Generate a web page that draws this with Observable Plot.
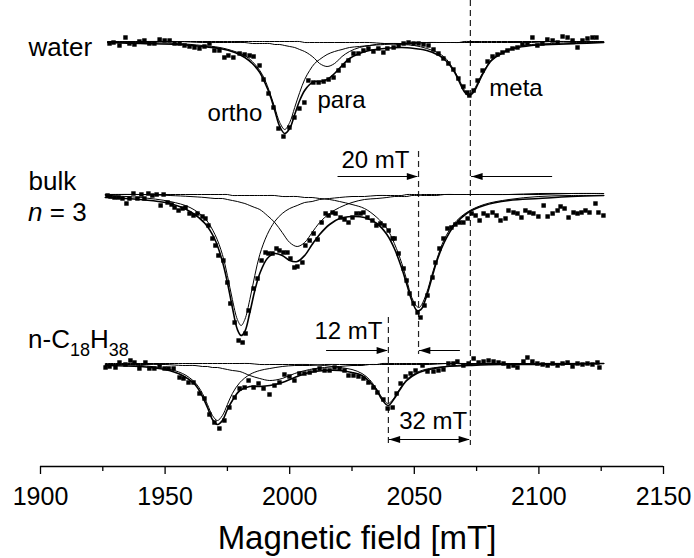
<!DOCTYPE html>
<html>
<head>
<meta charset="utf-8">
<script src="https://cdn.jsdelivr.net/npm/d3@7"></script>
<script src="https://cdn.jsdelivr.net/npm/@observablehq/plot@0.6"></script>
<style>
  body { margin: 0; background: #fff; }
  #chart svg { display: block; }
</style>
</head>
<body>
<div id="chart"></div>
<script>
// ---------------- measured spectra (field in mT, signal in arbitrary units, baseline = 0) ----------------
const waterX = [1927.7,1929.3,1931.7,1934.1,1935.7,1937.7,1939.7,1941.7,1943.7,1945.7,1947.8,1949.8,1951.8,1953.8,1955.8,1957.8,1959.8,1961.8,1963.8,1965.8,1967.8,1969.8,1971.8,1973.8,1975.4,1977.4,1979.9,1981.9,1983.9,1985.5,1987.9,1989.5,1991.5,1993.5,1995.5,1997.5,1999.9,2001.9,2003.9,2005.9,2007.5,2009.5,2011.6,2013.6,2015.6,2017.6,2019.6,2021.6,2023.6,2025.6,2027.6,2029.6,2031.6,2033.6,2035.6,2037.6,2039.2,2041.7,2043.7,2045.7,2047.7,2049.7,2051.7,2053.7,2055.7,2057.7,2059.7,2061.7,2063.7,2065.7,2067.7,2069.7,2071.3,2072.1,2073.8,2075.4,2077.4,2079.4,2081.4,2083.4,2085.4,2087.4,2089.4,2091.4,2093.4,2095.4,2097.4,2099.4,2101.4,2103.4,2105.5,2107.5,2109.5,2111.5,2113.5,2115.5,2117.5,2119.5,2121.5,2123.1];
const waterY = [-0.02,-0.01,-0.04,0.04,-0.02,-0.03,0.00,0.01,-0.02,-0.02,0.02,0.01,0.01,-0.02,-0.02,-0.04,-0.05,-0.06,-0.07,-0.05,-0.02,-0.09,-0.09,-0.16,-0.14,-0.16,-0.12,-0.13,-0.14,-0.15,-0.24,-0.38,-0.52,-0.66,-0.87,-0.95,-0.86,-0.76,-0.67,-0.61,-0.39,-0.41,-0.41,-0.40,-0.38,-0.36,-0.29,-0.24,-0.19,-0.12,-0.12,-0.09,-0.07,-0.10,-0.07,-0.11,-0.07,-0.06,-0.04,-0.02,-0.01,-0.02,-0.02,-0.03,-0.04,-0.08,-0.12,-0.17,-0.22,-0.28,-0.37,-0.45,-0.51,-0.54,-0.49,-0.39,-0.29,-0.20,-0.15,-0.13,-0.11,-0.09,-0.07,-0.06,-0.03,-0.02,0.04,-0.04,-0.02,0.02,0.01,-0.01,0.05,0.04,0.01,-0.06,0.01,0.03,0.04,0.04];

const bulkX = [1926.9,1928.1,1929.7,1931.3,1932.9,1934.5,1935.7,1937.3,1938.9,1940.5,1941.7,1943.3,1944.9,1946.6,1948.2,1949.4,1951.0,1952.6,1953.8,1955.4,1957.0,1958.2,1959.8,1961.4,1963.0,1965.0,1966.2,1967.4,1969.0,1970.2,1971.4,1973.4,1975.0,1976.2,1977.9,1979.5,1981.1,1982.3,1983.5,1985.5,1987.1,1988.7,1990.3,1991.5,1993.1,1994.7,1995.9,1997.5,1999.1,2000.3,2001.9,2003.1,2005.1,2006.3,2008.0,2009.6,2011.2,2012.8,2014.4,2015.6,2017.2,2018.4,2020.4,2022.0,2023.6,2025.2,2026.8,2028.4,2029.6,2031.2,2033.2,2034.8,2036.4,2038.0,2039.7,2041.3,2042.1,2043.7,2045.7,2046.9,2048.1,2049.7,2051.3,2052.5,2054.1,2055.3,2057.3,2058.5,2060.1,2061.7,2063.3,2064.9,2066.5,2068.1,2069.7,2071.4,2073.0,2074.6,2076.2,2077.8,2079.4,2081.4,2083.0,2084.6,2086.6,2087.8,2089.8,2091.4,2093.0,2094.6,2096.2,2097.8,2099.8,2101.9,2103.5,2105.5,2107.5,2108.7,2110.3,2111.9,2113.9,2115.5,2117.1,2118.7,2120.3,2122.7,2123.9,2125.9];
const bulkY = [-0.02,-0.03,-0.04,-0.04,-0.05,-0.10,-0.05,0.00,-0.05,-0.01,-0.05,0.00,-0.02,-0.01,-0.12,-0.01,-0.09,-0.11,-0.14,-0.17,-0.15,-0.14,-0.20,-0.22,-0.20,-0.23,-0.25,-0.32,-0.45,-0.52,-0.62,-0.67,-0.89,-1.10,-1.29,-1.47,-1.49,-1.40,-1.17,-0.95,-0.85,-0.67,-0.59,-0.60,-0.60,-0.55,-0.57,-0.59,-0.59,-0.65,-0.74,-0.73,-0.69,-0.52,-0.47,-0.40,-0.46,-0.29,-0.20,-0.22,-0.19,-0.20,-0.24,-0.26,-0.29,-0.24,-0.20,-0.20,-0.19,-0.24,-0.27,-0.32,-0.30,-0.32,-0.37,-0.45,-0.45,-0.60,-0.75,-0.87,-1.00,-1.10,-1.19,-1.24,-1.12,-1.02,-0.84,-0.69,-0.55,-0.45,-0.35,-0.34,-0.31,-0.29,-0.29,-0.25,-0.20,-0.22,-0.27,-0.20,-0.22,-0.19,-0.22,-0.27,-0.25,-0.17,-0.19,-0.20,-0.24,-0.17,-0.19,-0.20,-0.23,-0.12,-0.23,-0.20,-0.17,-0.13,-0.15,-0.24,-0.19,-0.20,-0.19,-0.17,-0.19,-0.10,-0.19,-0.22];

const c18X = [1926.1,1927.7,1930.1,1931.7,1934.1,1936.1,1937.7,1939.7,1942.1,1943.7,1945.7,1947.8,1949.8,1951.4,1953.4,1955.8,1957.4,1959.4,1961.4,1963.8,1965.8,1967.8,1969.8,1971.8,1973.8,1975.8,1977.9,1979.9,1981.9,1983.5,1985.5,1987.5,1989.5,1991.9,1993.9,1995.9,1997.9,1999.9,2001.9,2003.9,2005.9,2008.0,2010.0,2012.0,2014.0,2016.0,2018.0,2020.0,2022.0,2023.6,2025.6,2027.6,2029.6,2031.6,2033.6,2035.2,2037.6,2039.3,2041.3,2042.9,2044.5,2046.5,2048.5,2050.5,2053.3,2055.3,2057.7,2059.7,2061.7,2063.7,2065.7,2067.3,2069.7,2071.8,2073.8,2075.8,2077.8,2079.8,2081.8,2083.8,2085.8,2087.8,2089.8,2091.4,2093.8,2095.4,2097.4,2099.4,2101.5,2103.5,2105.5,2107.5,2109.5,2111.5,2113.5,2115.5,2117.5,2119.5,2121.5,2123.5,2124.3];
const c18Y = [-0.04,-0.03,-0.04,0.01,-0.01,0.03,0.01,-0.05,0.01,-0.05,-0.05,-0.02,-0.05,-0.05,-0.05,-0.14,-0.15,-0.19,-0.19,-0.30,-0.35,-0.51,-0.59,-0.65,-0.57,-0.44,-0.34,-0.25,-0.24,-0.17,-0.24,-0.20,-0.25,-0.31,-0.22,-0.19,-0.11,-0.13,-0.17,-0.10,-0.10,-0.09,-0.07,-0.05,-0.07,-0.07,-0.04,-0.05,-0.07,-0.12,-0.12,-0.13,-0.15,-0.19,-0.24,-0.29,-0.36,-0.45,-0.44,-0.30,-0.20,-0.13,-0.10,-0.07,-0.02,-0.08,-0.08,-0.07,-0.06,0.00,0.00,0.02,-0.02,0.00,0.05,0.01,0.02,0.03,0.02,0.01,0.00,-0.03,-0.02,-0.04,0.02,0.06,0.02,0.00,-0.01,-0.02,0.00,-0.02,0.00,0.01,-0.03,0.00,-0.01,0.00,-0.01,0.01,-0.04];

// ---------------- fitted curves (depth below baseline) ----------------
const waterGrid  = [1927,1940,1955,1965,1972,1978,1982,1985,1988,1990,1992,1994,1996,1998,2000,2002,2004,2006,2008,2010,2012,2015,2018,2021,2024,2028,2032,2038,2045,2050,2055,2060,2063,2066,2068,2070,2072,2074,2076,2078,2081,2085,2090,2097,2105,2115,2126];
const waterOrtho = [0.01,0.01,0.02,0.04,0.06,0.10,0.14,0.20,0.29,0.38,0.51,0.66,0.81,0.88,0.81,0.66,0.51,0.38,0.29,0.22,0.18,0.13,0.10,0.08,0.06,0.05,0.04,0.03,0.02,0.02,0.01,0.01,0.01,0.01,0.01,0.01,0.01,0.01,0.01,0.01,0.01,0.01,0.01,0.01,0.00,0.00,0.00];
const waterPara  = [0.00,0.00,0.00,0.01,0.01,0.01,0.01,0.02,0.02,0.02,0.02,0.03,0.03,0.04,0.05,0.06,0.08,0.10,0.13,0.17,0.22,0.25,0.22,0.15,0.10,0.06,0.04,0.02,0.02,0.01,0.01,0.01,0.01,0.01,0.01,0.00,0.00,0.00,0.00,0.00,0.00,0.00,0.00,0.00,0.00,0.00,0.00];
const waterMeta  = [0.00,0.00,0.00,0.00,0.00,0.00,0.00,0.00,0.00,0.00,0.00,0.00,0.00,0.00,0.00,0.00,0.00,0.01,0.01,0.01,0.01,0.01,0.01,0.01,0.01,0.01,0.01,0.02,0.03,0.04,0.07,0.12,0.18,0.29,0.38,0.48,0.53,0.48,0.38,0.29,0.18,0.11,0.06,0.03,0.02,0.01,0.01];
const waterFit   = [0.01,0.02,0.03,0.05,0.07,0.11,0.16,0.22,0.31,0.41,0.53,0.69,0.85,0.92,0.87,0.73,0.59,0.49,0.43,0.40,0.40,0.38,0.32,0.24,0.17,0.12,0.09,0.07,0.06,0.07,0.09,0.14,0.20,0.30,0.40,0.50,0.54,0.50,0.40,0.30,0.19,0.12,0.07,0.04,0.03,0.02,0.01];

const bulkGrid  = [1926,1940,1952,1960,1966,1970,1973,1975,1977,1979,1980.5,1982,1984,1986,1988,1991,1994,1997,2000,2003,2006,2009,2012,2016,2020,2025,2030,2035,2039,2042,2045,2047,2049,2051,2052,2053,2055,2057,2059,2062,2066,2071,2078,2088,2100,2113,2126];
const bulkOrtho = [0.02,0.04,0.08,0.14,0.25,0.41,0.61,0.82,1.06,1.26,1.32,1.26,1.06,0.82,0.61,0.41,0.28,0.20,0.15,0.12,0.09,0.08,0.06,0.05,0.04,0.03,0.03,0.02,0.02,0.02,0.02,0.01,0.01,0.01,0.01,0.01,0.01,0.01,0.01,0.01,0.01,0.01,0.01,0.01,0.00,0.00,0.00];
const bulkPara  = [0.01,0.01,0.02,0.03,0.04,0.05,0.05,0.06,0.07,0.08,0.09,0.10,0.12,0.14,0.16,0.22,0.29,0.39,0.49,0.53,0.49,0.39,0.29,0.20,0.14,0.09,0.06,0.05,0.04,0.03,0.03,0.03,0.02,0.02,0.02,0.02,0.02,0.02,0.02,0.01,0.01,0.01,0.01,0.01,0.01,0.00,0.00];
const bulkMeta  = [0.01,0.01,0.01,0.01,0.01,0.01,0.01,0.01,0.02,0.02,0.02,0.02,0.02,0.02,0.02,0.02,0.02,0.03,0.03,0.03,0.04,0.04,0.05,0.06,0.08,0.11,0.15,0.24,0.35,0.50,0.70,0.87,1.04,1.13,1.14,1.11,0.99,0.82,0.66,0.46,0.30,0.19,0.11,0.06,0.03,0.02,0.02];
const bulkFit   = [0.04,0.06,0.10,0.18,0.30,0.46,0.68,0.89,1.14,1.36,1.42,1.38,1.19,0.97,0.80,0.65,0.60,0.62,0.67,0.68,0.62,0.51,0.41,0.31,0.25,0.23,0.24,0.30,0.41,0.55,0.75,0.91,1.07,1.17,1.17,1.15,1.02,0.85,0.68,0.49,0.32,0.20,0.12,0.07,0.05,0.03,0.02];

const c18Grid  = [1926,1940,1950,1957,1962,1965,1967,1969,1971,1973,1975,1977,1980,1984,1988,1992,1997,2002,2008,2014,2020,2025,2029,2032,2035,2037,2039.5,2042,2044,2047,2051,2056,2063,2072,2085,2100,2126];
const c18Ortho = [0.01,0.02,0.05,0.10,0.19,0.30,0.41,0.52,0.57,0.52,0.41,0.30,0.19,0.11,0.07,0.05,0.03,0.02,0.02,0.01,0.01,0.01,0.01,0.01,0.01,0.00,0.00,0.00,0.00,0.00,0.00,0.00,0.00,0.00,0.00,0.00,0.00];
const c18Para  = [0.01,0.01,0.01,0.02,0.02,0.03,0.03,0.04,0.04,0.05,0.06,0.07,0.08,0.12,0.15,0.17,0.15,0.10,0.06,0.04,0.03,0.02,0.02,0.01,0.01,0.01,0.01,0.01,0.01,0.01,0.01,0.01,0.00,0.00,0.00,0.00,0.00];
const c18Meta  = [0.00,0.00,0.00,0.00,0.00,0.00,0.00,0.00,0.00,0.00,0.00,0.00,0.00,0.00,0.01,0.01,0.01,0.01,0.01,0.02,0.04,0.06,0.10,0.16,0.26,0.34,0.40,0.34,0.26,0.16,0.09,0.05,0.03,0.01,0.01,0.00,0.00];
const c18Fit   = [0.02,0.03,0.06,0.12,0.21,0.33,0.44,0.56,0.61,0.57,0.46,0.37,0.27,0.23,0.23,0.22,0.19,0.14,0.09,0.07,0.07,0.09,0.12,0.18,0.27,0.36,0.42,0.35,0.27,0.17,0.10,0.06,0.03,0.02,0.01,0.01,0.00];

// vertical offsets of the stacked spectra
const offsets = {water: 0, bulk: -1.52, c18: -3.22};

// axis ticks
const majorTicks = [1900, 1950, 2000, 2050, 2100, 2150];
const minorTicks = [1925, 1975, 2025, 2075, 2125];
const xTitle = "Magnetic field [mT]";

// annotations (field in mT, signal units)
const peakLabels = [
  {text: "ortho", x: 1978.0, y: -0.72},
  {text: "para",  x: 2020.8, y: -0.59},
  {text: "meta",  x: 2090.8, y: -0.47},
  {text: "20 mT", x: 2034.4, y: -1.19},
  {text: "12 mT", x: 2023.6, y: -2.90},
  {text: "32 mT", x: 2057.6, y: -3.80}
];
const sampleLabels = [
  {text: "water", x: 1895.2, y: -0.06},
  {text: "bulk",  x: 1895.2, y: -1.40}
];
const dashes = [
  {x: 2072.5, y1: 0.41,  y2: -4.04},
  {x: 2051.7, y1: -1.10, y2: -3.13},
  {x: 2039.6, y1: -2.76, y2: -4.04}
];
const shafts = [
  {x1: 2019.4, x2: 2051.4, y: -1.35},
  {x1: 2073.0, x2: 2105.5, y: -1.35},
  {x1: 2014.8, x2: 2039.3, y: -3.09},
  {x1: 2052.0, x2: 2068.5, y: -3.09},
  {x1: 2039.9, x2: 2072.2, y: -3.98}
];
const heads = [
  {x: 2051.4, y: -1.35, dir: 90},
  {x: 2073.0, y: -1.35, dir: -90},
  {x: 2039.3, y: -3.09, dir: 90},
  {x: 2052.0, y: -3.09, dir: -90},
  {x: 2039.9, y: -3.98, dir: -90},
  {x: 2072.2, y: -3.98, dir: 90}
];

// ---------------- build tidy tables ----------------
const spectra = [
  {key: "water", x: waterX, y: waterY, grid: waterGrid, fit: waterFit, comps: [waterOrtho, waterPara, waterMeta]},
  {key: "bulk",  x: bulkX,  y: bulkY,  grid: bulkGrid,  fit: bulkFit,  comps: [bulkOrtho, bulkPara, bulkMeta]},
  {key: "c18",   x: c18X,   y: c18Y,   grid: c18Grid,   fit: c18Fit,   comps: [c18Ortho, c18Para, c18Meta]}
];
const points = [], compLines = [], fitLines = [];
for (const s of spectra) {
  const off = offsets[s.key];
  s.x.forEach((x, i) => points.push({x, y: s.y[i] + off}));
  s.grid.forEach((x, i) => fitLines.push({x, y: off - s.fit[i], z: s.key}));
  s.comps.forEach((c, j) => c.forEach((d, i) => compLines.push({x: s.grid[i], y: off - d, z: s.key + j})));
}

const headShape = {
  draw(ctx, l, r) { ctx.moveTo(0, -l); ctx.lineTo(-r, 0); ctx.lineTo(r, 0); ctx.closePath(); }
};

const FONT = "'Liberation Sans', Arial, Helvetica, sans-serif";

const chart = Plot.plot({
  width: 694,
  height: 558,
  marginLeft: 40,
  marginRight: 31,
  marginTop: 0,
  marginBottom: 92,
  style: {fontFamily: FONT, background: "#fff", color: "#000", overflow: "visible"},
  x: {domain: [1900, 2150]},
  y: {domain: [-4.25, 0.41], axis: null},
  marks: [
    Plot.ruleY([-4.25], {stroke: "#000", strokeWidth: 1.3}),
    Plot.axisX(minorTicks, {tickSize: 5, tickFormat: () => "", label: null, strokeWidth: 1.3}),
    Plot.axisX(majorTicks, {tickSize: 8, tickPadding: 13, tickFormat: d => String(d), fontSize: 25, label: null, strokeWidth: 1.3}),
    Plot.text([xTitle], {frameAnchor: "bottom", lineAnchor: "middle", text: d => d, dy: 72, dx: 5, fontSize: 33}),
    Plot.ruleX(dashes, {x: "x", y1: "y1", y2: "y2", stroke: "#222", strokeWidth: 1.2, strokeDasharray: "6,4"}),
    Plot.line(compLines, {x: "x", y: "y", z: "z", curve: "catmull-rom", stroke: "#000", strokeWidth: 1}),
    Plot.line(fitLines, {x: "x", y: "y", z: "z", curve: "catmull-rom", stroke: "#000", strokeWidth: 1.6}),
    Plot.dot(points, {x: "x", y: "y", symbol: "square", r: 2.5, fill: "#000", stroke: "none"}),
    Plot.ruleY(shafts, {y: "y", x1: "x1", x2: "x2", stroke: "#000", strokeWidth: 1.2}),
    Plot.vector(heads, {x: "x", y: "y", rotate: "dir", length: 11, r: 3.5, anchor: "end", shape: headShape, fill: "#000", stroke: "none"}),
    Plot.text(peakLabels, {x: "x", y: "y", text: "text", fontSize: 24}),
    Plot.text(sampleLabels, {x: "x", y: "y", text: "text", fontSize: 26, textAnchor: "start"})
  ]
});

// rich-text sample labels (italic n, subscripts) placed with Plot's own scales
const sx = chart.scale("x"), sy = chart.scale("y");
const svg = d3.select(chart);
const t1 = svg.append("text")
  .attr("x", sx.apply(1895.2)).attr("y", sy.apply(-1.71)).attr("dy", "0.35em")
  .attr("text-anchor", "start")
  .attr("font-family", FONT).attr("font-size", 26).attr("fill", "#000");
t1.append("tspan").attr("font-style", "italic").text("n");
t1.append("tspan").text(" = 3");

const t2 = svg.append("text")
  .attr("x", sx.apply(1895.2)).attr("y", sy.apply(-2.98)).attr("dy", "0.35em")
  .attr("text-anchor", "start")
  .attr("font-family", FONT).attr("font-size", 26).attr("fill", "#000");
t2.append("tspan").text("n-C");
t2.append("tspan").attr("font-size", 18).attr("dy", 8).text("18");
t2.append("tspan").attr("dy", -8).text("H");
t2.append("tspan").attr("font-size", 18).attr("dy", 8).text("38");

document.getElementById("chart").append(chart);
</script>
</body>
</html>
